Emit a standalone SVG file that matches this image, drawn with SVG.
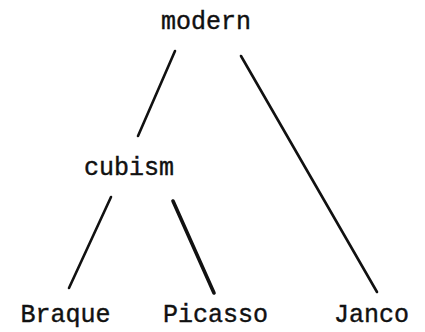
<svg xmlns="http://www.w3.org/2000/svg" width="425" height="332" viewBox="0 0 425 332">
<style>
text{font-family:"Courier New","Nimbus Mono PS","FreeMono","Liberation Mono",monospace;font-size:25px;fill:#111;stroke:#111;stroke-width:0.4;text-anchor:middle}
.e{stroke:#111;stroke-width:2.6;stroke-linecap:round;fill:none}
</style>
<rect width="425" height="332" fill="#fff"/>
<g id="connectors">
<line class="e" x1="175" y1="51" x2="138" y2="136"/>
<line class="e" x1="241" y1="56" x2="377" y2="292"/>
<line class="e" x1="111" y1="197" x2="69" y2="288"/>
<line class="e" x1="173" y1="201" x2="214" y2="293" style="stroke-width:3.6"/>
</g>
<g id="modern"><text x="206" y="29">modern</text></g>
<g id="cubism"><text x="129" y="175">cubism</text></g>
<g id="Braque"><text x="65.5" y="322">Braque</text></g>
<g id="Picasso"><text x="215.5" y="322">Picasso</text></g>
<g id="Janco"><text x="371.5" y="322">Janco</text></g>
</svg>
